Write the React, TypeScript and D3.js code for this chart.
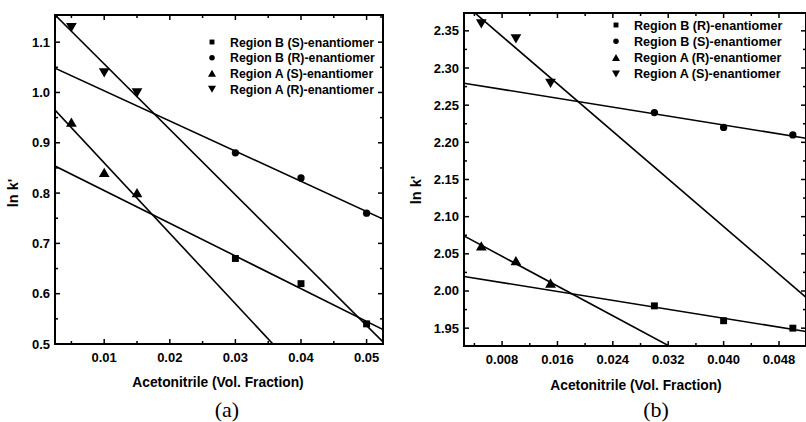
import React from 'react';
import * as d3 from 'd3';

// panel (a)
const aXs = [0.005, 0.01, 0.015];
const aXsB = [0.03, 0.04, 0.05];
const aRegionBS = [0.67, 0.62, 0.54];
const aRegionBR = [0.88, 0.83, 0.76];
const aRegionAS = [0.94, 0.84, 0.8];
const aRegionAR = [1.13, 1.04, 1.0];
const aXTicks = [0.01, 0.02, 0.03, 0.04, 0.05];
const aYTicks = [0.5, 0.6, 0.7, 0.8, 0.9, 1.0, 1.1];

// panel (b)
const bRegionBR = [1.98, 1.96, 1.95];
const bRegionBS = [2.24, 2.22, 2.21];
const bRegionAR = [2.06, 2.04, 2.01];
const bRegionAS = [2.36, 2.34, 2.28];
const bXTicks = [0.008, 0.016, 0.024, 0.032, 0.04, 0.048];
const bYTicks = [1.95, 2.0, 2.05, 2.1, 2.15, 2.2, 2.25, 2.3, 2.35];

const FONT = 'Arial, "Liberation Sans", sans-serif';

type Series = { name: string; xs: number[]; ys: number[]; marker: string };

function fit(xs: number[], ys: number[]) {
  const mx = d3.mean(xs)!;
  const my = d3.mean(ys)!;
  let sxy = 0;
  let sxx = 0;
  xs.forEach((x, i) => {
    sxy += (x - mx) * (ys[i] - my);
    sxx += (x - mx) * (x - mx);
  });
  const slope = sxy / sxx;
  return (x: number) => my + slope * (x - mx);
}

function markerPath(kind: string, size: number) {
  const t =
    kind === 'square'
      ? d3.symbolSquare
      : kind === 'circle'
      ? d3.symbolCircle
      : d3.symbolTriangle;
  return d3.symbol().type(t).size(size)()!;
}

function Marker({ kind, x, y, size }: { kind: string; x: number; y: number; size: number }) {
  const rot = kind === 'down' ? 180 : 0;
  const dy = kind === 'up' ? 1 : kind === 'down' ? -1 : 0;
  return (
    <path
      d={markerPath(kind, size)}
      transform={`translate(${x},${y + dy}) rotate(${rot})`}
      fill="#000"
    />
  );
}

type PanelProps = {
  id: string;
  box: { left: number; top: number; right: number; bottom: number };
  xDomain: [number, number];
  yDomain: [number, number];
  xTicks: number[];
  yTicks: number[];
  xMinorStep: number;
  yMinorStep: number;
  xFmt: string;
  yFmt: string;
  series: Series[];
  legend: { x: number; y: number; dy: number; size: number };
  yLabelPos: [number, number];
  xTitlePos: [number, number];
  caption: string;
  captionPos: [number, number];
};

function Panel(p: PanelProps) {
  const { left, top, right, bottom } = p.box;
  const x = d3.scaleLinear().domain(p.xDomain).range([left, right]);
  const y = d3.scaleLinear().domain(p.yDomain).range([bottom, top]);
  const xMinor = d3.range(
    Math.ceil(p.xDomain[0] / p.xMinorStep) * p.xMinorStep,
    p.xDomain[1],
    p.xMinorStep
  );
  const yMinor = d3.range(
    Math.ceil(p.yDomain[0] / p.yMinorStep - 1e-6) * p.yMinorStep,
    p.yDomain[1],
    p.yMinorStep
  );
  const isMajorX = (v: number) => p.xTicks.some((t) => Math.abs(t - v) < 1e-6);
  const isMajorY = (v: number) => p.yTicks.some((t) => Math.abs(t - v) < 1e-6);
  const line = d3
    .line<number[]>()
    .x((d) => x(d[0]))
    .y((d) => y(d[1]));
  const xf = d3.format(p.xFmt);
  const yf = d3.format(p.yFmt);
  return (
    <g>
      <defs>
        <clipPath id={`clip-${p.id}`}>
          <rect x={left} y={top} width={right - left} height={bottom - top} />
        </clipPath>
      </defs>
      <g clipPath={`url(#clip-${p.id})`}>
        {p.series.map((s) => {
          const f = fit(s.xs, s.ys);
          const pts = p.xDomain.map((v) => [v, f(v)]);
          return (
            <path
              key={s.name}
              d={line(pts)!}
              fill="none"
              stroke="#000"
              strokeWidth={1.6}
            />
          );
        })}
      </g>
      {p.series.map((s) =>
        s.xs.map((v, i) => (
          <Marker
            key={s.name + i}
            kind={s.marker}
            x={x(v)}
            y={y(s.ys[i])}
            size={s.marker === 'up' || s.marker === 'down' ? 50 : s.marker === 'square' ? 48 : 42}
          />
        ))
      )}
      {/* ticks */}
      {xMinor.map((v, i) => {
        const len = isMajorX(v) ? 5 : 3;
        return (
          <g key={'xt' + i} stroke="#000" strokeWidth={1.5}>
            <line x1={x(v)} x2={x(v)} y1={bottom} y2={bottom - len} />
            <line x1={x(v)} x2={x(v)} y1={top} y2={top + len} />
          </g>
        );
      })}
      {yMinor.map((v, i) => {
        const len = isMajorY(v) ? 5 : 3;
        return (
          <g key={'yt' + i} stroke="#000" strokeWidth={1.5}>
            <line x1={left} x2={left + len} y1={y(v)} y2={y(v)} />
            <line x1={right} x2={right - len} y1={y(v)} y2={y(v)} />
          </g>
        );
      })}
      <rect
        x={left}
        y={top}
        width={right - left}
        height={bottom - top}
        fill="none"
        stroke="#000"
        strokeWidth={2}
      />
      {p.xTicks.map((v) => (
        <text
          key={'xl' + v}
          x={x(v)}
          y={bottom + 18}
          textAnchor="middle"
          fontFamily={FONT}
          fontWeight="bold"
          fontSize={13}
        >
          {xf(v)}
        </text>
      ))}
      {p.yTicks.map((v) => (
        <text
          key={'yl' + v}
          x={left - 5}
          y={y(v) + 4.5}
          textAnchor="end"
          fontFamily={FONT}
          fontWeight="bold"
          fontSize={13}
        >
          {yf(v)}
        </text>
      ))}
      <text
        transform={`translate(${p.yLabelPos[0]},${p.yLabelPos[1]}) rotate(-90)`}
        textAnchor="middle"
        fontFamily={FONT}
        fontWeight="bold"
        fontSize={14.5}
      >
        ln k'
      </text>
      <text
        x={p.xTitlePos[0]}
        y={p.xTitlePos[1]}
        textAnchor="middle"
        fontFamily={FONT}
        fontWeight="bold"
        fontSize={13.8}
      >
        Acetonitrile (Vol. Fraction)
      </text>
      <text
        x={p.captionPos[0]}
        y={p.captionPos[1]}
        textAnchor="middle"
        fontFamily='"Liberation Serif", "Times New Roman", serif'
        fontSize={22}
      >
        {p.caption}
      </text>
      {p.series.map((s, i) => (
        <g key={'lg' + s.name}>
          <Marker
            kind={s.marker}
            x={p.legend.x}
            y={p.legend.y + i * p.legend.dy}
            size={s.marker === 'up' || s.marker === 'down' ? 28 : 24}
          />
          <text
            x={p.legend.x + 18}
            y={p.legend.y + i * p.legend.dy + 4.5}
            fontFamily={FONT}
            fontWeight="bold"
            fontSize={p.legend.size}
          >
            {s.name}
          </text>
        </g>
      ))}
    </g>
  );
}

export default function App() {
  const seriesA: Series[] = [
    { name: 'Region B (S)-enantiomer', xs: aXsB, ys: aRegionBS, marker: 'square' },
    { name: 'Region B (R)-enantiomer', xs: aXsB, ys: aRegionBR, marker: 'circle' },
    { name: 'Region A (S)-enantiomer', xs: aXs, ys: aRegionAS, marker: 'up' },
    { name: 'Region A (R)-enantiomer', xs: aXs, ys: aRegionAR, marker: 'down' },
  ];
  const seriesB: Series[] = [
    { name: 'Region B (R)-enantiomer', xs: aXsB, ys: bRegionBR, marker: 'square' },
    { name: 'Region B (S)-enantiomer', xs: aXsB, ys: bRegionBS, marker: 'circle' },
    { name: 'Region A (R)-enantiomer', xs: aXs, ys: bRegionAR, marker: 'up' },
    { name: 'Region A (S)-enantiomer', xs: aXs, ys: bRegionAS, marker: 'down' },
  ];
  return (
    <svg
      width={806}
      height={422}
      style={{ position: 'absolute', left: 0, top: 0, background: '#fff' }}
    >
      <rect width={806} height={422} fill="#fff" />
      <Panel
        id="a"
        box={{ left: 55, top: 15, right: 383, bottom: 344 }}
        xDomain={[0.0025, 0.0525]}
        yDomain={[0.5, 1.154]}
        xTicks={aXTicks}
        yTicks={aYTicks}
        xMinorStep={0.005}
        yMinorStep={0.05}
        xFmt=".2f"
        yFmt=".1f"
        series={seriesA}
        legend={{ x: 212, y: 42, dy: 15.7, size: 12.3 }}
        yLabelPos={[18, 193]}
        xTitlePos={[218, 387]}
        caption="(a)"
        captionPos={[227, 417]}
      />
      <Panel
        id="b"
        box={{ left: 464, top: 13, right: 806, bottom: 346 }}
        xDomain={[0.0025, 0.0519]}
        yDomain={[1.926, 2.374]}
        xTicks={bXTicks}
        yTicks={bYTicks}
        xMinorStep={0.004}
        yMinorStep={0.025}
        xFmt=".3f"
        yFmt=".2f"
        series={seriesB}
        legend={{ x: 616, y: 25, dy: 16.3, size: 12.6 }}
        yLabelPos={[421, 190]}
        xTitlePos={[636, 390]}
        caption="(b)"
        captionPos={[656, 417]}
      />
    </svg>
  );
}
